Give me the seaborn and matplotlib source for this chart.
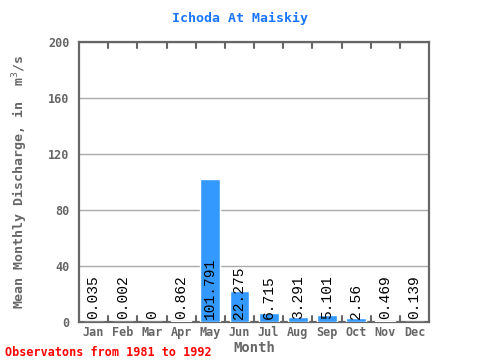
import pandas as pd
import seaborn as sns
import matplotlib.pyplot as plt
from matplotlib.ticker import MultipleLocator

# Monthly discharge data
months = ['Jan', 'Feb', 'Mar', 'Apr', 'May', 'Jun', 'Jul', 'Aug', 'Sep', 'Oct', 'Nov', 'Dec']
discharge = [0.035, 0.002, 0, 0.862, 101.791, 22.275, 6.715, 3.291, 5.101, 2.56, 0.469, 0.139]
labels = ['0.035', '0.002', '0', '0.862', '101.791', '22.275', '6.715', '3.291', '5.101', '2.56', '0.469', '0.139']

df = pd.DataFrame({'Month': months, 'Discharge': discharge})

sns.set_style('white')
plt.rcParams['font.family'] = ['DejaVu Sans Mono', 'DejaVu Sans']

fig = plt.figure(figsize=(4.8, 3.6), dpi=100)
ax = fig.add_axes([0.1646, 0.1056, 0.7292, 0.7778])

sns.barplot(data=df, x='Month', y='Discharge', color='#3399ff', width=0.68,
            saturation=1, ax=ax, zorder=3)

ax.set_ylim(0, 200)
ax.set_xlim(-0.5, 11.5)
ax.yaxis.set_major_locator(MultipleLocator(40))
ax.yaxis.set_minor_locator(MultipleLocator(10))
ax.grid(axis='y', which='major', color='#aaaaaa', linewidth=1, zorder=0)

gray = '#666666'
for s in ax.spines.values():
    s.set_color(gray)
    s.set_linewidth(1.6)

ax.tick_params(axis='y', which='major', length=5, width=1.5, color=gray, direction='in',
               labelsize=8.5, labelcolor=gray, pad=7)
ax.tick_params(axis='y', which='minor', length=3, width=1.5, color=gray, direction='in')
ax.tick_params(axis='x', length=0, labelsize=8.5, labelcolor=gray, pad=3)
for t in ax.get_xticklabels() + ax.get_yticklabels():
    t.set_fontweight('bold')

# month boundary ticks on bottom and top
for b in range(1, 12):
    ax.plot([b - 0.5, b - 0.5], [0, 4], color=gray, lw=1.5, zorder=4, clip_on=False)
    ax.plot([b - 0.5, b - 0.5], [200, 196], color=gray, lw=1.5, zorder=4, clip_on=False)

# value labels
for i, lab in enumerate(labels):
    ax.text(i, 2, lab, rotation=90, ha='center', va='bottom', fontsize=10.5,
            family='Liberation Mono', color='black', zorder=5)

ax.set_xlabel('Month', fontsize=10, fontweight='bold', color=gray, labelpad=1)
ax.set_ylabel('Mean Monthly Discharge, in  m$^3$/s', fontsize=9.5, fontweight='bold',
              color=gray, labelpad=13)
fig.text(0.5, 0.95, 'Ichoda At Maiskiy', ha='center', va='center', fontsize=9.5,
         fontweight='bold', color='#1a75ff')
fig.text(0.01, 0.022, 'Observatons from 1981 to 1992', ha='left', va='center',
         fontsize=8.5, fontweight='bold', color='red')

fig.savefig('out.png', dpi=100)
